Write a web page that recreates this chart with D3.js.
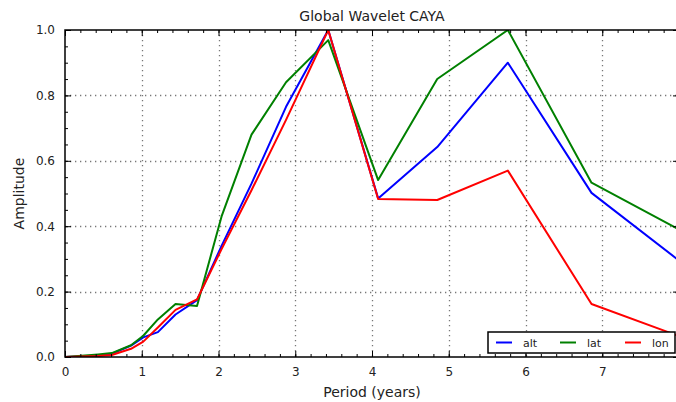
<!DOCTYPE html>
<html>
<head>
<meta charset="utf-8">
<script src="https://cdn.jsdelivr.net/npm/d3@7"></script>
<style>
  body { margin: 0; background: #fff; }
  svg { display: block; font-family: "DejaVu Sans", sans-serif; }
  .grid line { stroke: #777; stroke-width: 1.3; stroke-dasharray: 1.3,3.7; }
  .series { fill: none; stroke-width: 2; stroke-linejoin: round; }
</style>
</head>
<body>
<script>
(function(){
    //data
    var periods = [0.0, 0.43, 0.61, 0.86, 1.02, 1.21, 1.44, 1.72, 2.04, 2.43, 2.88, 3.43, 4.08, 4.85, 5.77, 6.86, 8.16];
    var altValues = [0.0, 0.004, 0.010, 0.035, 0.060, 0.076, 0.130, 0.174, 0.340, 0.530, 0.765, 1.000, 0.485, 0.642, 0.900, 0.502, 0.266];
    var latValues = [0.0, 0.008, 0.012, 0.036, 0.065, 0.115, 0.162, 0.156, 0.430, 0.680, 0.840, 0.969, 0.541, 0.850, 1.000, 0.533, 0.370];
    var lonValues = [0.0, 0.003, 0.006, 0.025, 0.047, 0.090, 0.144, 0.176, 0.330, 0.510, 0.725, 1.000, 0.483, 0.480, 0.570, 0.162, 0.050];
    var seriesNames = ["alt", "lat", "lon"];
    var seriesColors = ["#0000ff", "#008000", "#ff0000"];
    var xTicks = [0, 1, 2, 3, 4, 5, 6, 7, 8];
    var yTicks = [0.0, 0.2, 0.4, 0.6, 0.8, 1.0];

    var width = 676, height = 402;
    var left = 65, right = 679, top = 30, bottom = 357;

    var svg = d3.select("body").append("svg")
        .attr("width", width)
        .attr("height", height);

    var x = d3.scaleLinear().domain([0, 8]).range([left, right]);
    var y = d3.scaleLinear().domain([0, 1]).range([bottom, top]);

    svg.append("clipPath").attr("id", "plotClip")
        .append("rect")
        .attr("x", left).attr("y", top)
        .attr("width", right - left).attr("height", bottom - top);

    //dotted grid at major ticks
    var grid = svg.append("g").attr("class", "grid");
    grid.selectAll(".vg")
        .data(xTicks.filter(function(d){ return d > 0 && d < 8; }))
        .enter().append("line")
        .attr("x1", function(d){ return Math.round(x(d)) + 0.5; })
        .attr("x2", function(d){ return Math.round(x(d)) + 0.5; })
        .attr("y1", top).attr("y2", bottom);
    grid.selectAll(".hg")
        .data(yTicks.filter(function(d){ return d > 0 && d < 1; }))
        .enter().append("line")
        .attr("y1", function(d){ return Math.round(y(d)) + 0.5; })
        .attr("y2", function(d){ return Math.round(y(d)) + 0.5; })
        .attr("x1", left).attr("x2", right);

    //lines
    var line = d3.line()
        .x(function(d){ return x(d[0]); })
        .y(function(d){ return y(d[1]); });
    var allValues = [altValues, latValues, lonValues];
    var plot = svg.append("g").attr("clip-path", "url(#plotClip)");
    allValues.forEach(function(vals, i){
        plot.append("path")
            .datum(periods.map(function(p, j){ return [p, vals[j]]; }))
            .attr("class", "series")
            .attr("stroke", seriesColors[i])
            .attr("d", line);
    });

    //axes with inward ticks on all four sides
    var xMinor = d3.range(0, 8.01, 0.2);
    var yMinor = d3.range(0, 1.001, 0.05);
    function addAxis(axis, tx, ty, showLabels){
        var g = svg.append("g")
            .attr("transform", "translate(" + tx + "," + ty + ")")
            .call(axis);
        g.select(".domain").remove();
        g.selectAll("line").attr("stroke", "#000").attr("stroke-width", 1);
        g.selectAll("text")
            .style("font-family", "DejaVu Sans, sans-serif")
            .style("font-size", "12px")
            .attr("fill", "#222")
            .style("display", showLabels ? null : "none");
        return g;
    }
    addAxis(d3.axisBottom(x).tickValues(xMinor).tickSize(-3).tickFormat(""), 0, bottom, false);
    addAxis(d3.axisTop(x).tickValues(xMinor).tickSize(-3).tickFormat(""), 0, top, false);
    addAxis(d3.axisLeft(y).tickValues(yMinor).tickSize(-3).tickFormat(""), left, 0, false);
    addAxis(d3.axisRight(y).tickValues(yMinor).tickSize(-3).tickFormat(""), right, 0, false);
    addAxis(d3.axisBottom(x).tickValues(xTicks).tickSize(-6).tickPadding(10).tickFormat(d3.format("d")), 0, bottom, true);
    addAxis(d3.axisTop(x).tickValues(xTicks).tickSize(-6).tickFormat(""), 0, top, false);
    addAxis(d3.axisLeft(y).tickValues(yTicks).tickSize(-6).tickPadding(10).tickFormat(d3.format(".1f")), left, 0, true);
    addAxis(d3.axisRight(y).tickValues(yTicks).tickSize(-6).tickFormat(""), right, 0, false);

    //frame
    svg.append("rect")
        .attr("x", left).attr("y", top)
        .attr("width", right - left).attr("height", bottom - top)
        .attr("fill", "none")
        .attr("stroke", "#000")
        .attr("stroke-width", 1.5);

    //title and axis labels
    svg.append("text")
        .attr("x", (left + right) / 2).attr("y", 21)
        .attr("text-anchor", "middle")
        .style("font-size", "14px")
        .attr("fill", "#222")
        .text("Global Wavelet CAYA");
    svg.append("text")
        .attr("x", (left + right) / 2).attr("y", 397)
        .attr("text-anchor", "middle")
        .style("font-size", "14px")
        .attr("fill", "#222")
        .text("Period (years)");
    svg.append("text")
        .attr("transform", "translate(24," + ((top + bottom) / 2) + ") rotate(-90)")
        .attr("text-anchor", "middle")
        .style("font-size", "14px")
        .attr("fill", "#222")
        .text("Amplitude");

    //legend
    var legend = svg.append("g").attr("transform", "translate(488,332)");
    legend.append("rect")
        .attr("width", 187).attr("height", 21)
        .attr("fill", "#fff")
        .attr("stroke", "#000")
        .attr("stroke-width", 1.5);
    var entryX = [8, 72, 137];
    seriesNames.forEach(function(name, i){
        legend.append("line")
            .attr("x1", entryX[i]).attr("x2", entryX[i] + 16)
            .attr("y1", 10.5).attr("y2", 10.5)
            .attr("stroke", seriesColors[i])
            .attr("stroke-width", 2);
        legend.append("text")
            .attr("x", entryX[i] + 27).attr("y", 14.5)
            .style("font-size", "11px")
            .attr("fill", "#222")
            .text(name);
    });
})();
</script>
</body>
</html>
